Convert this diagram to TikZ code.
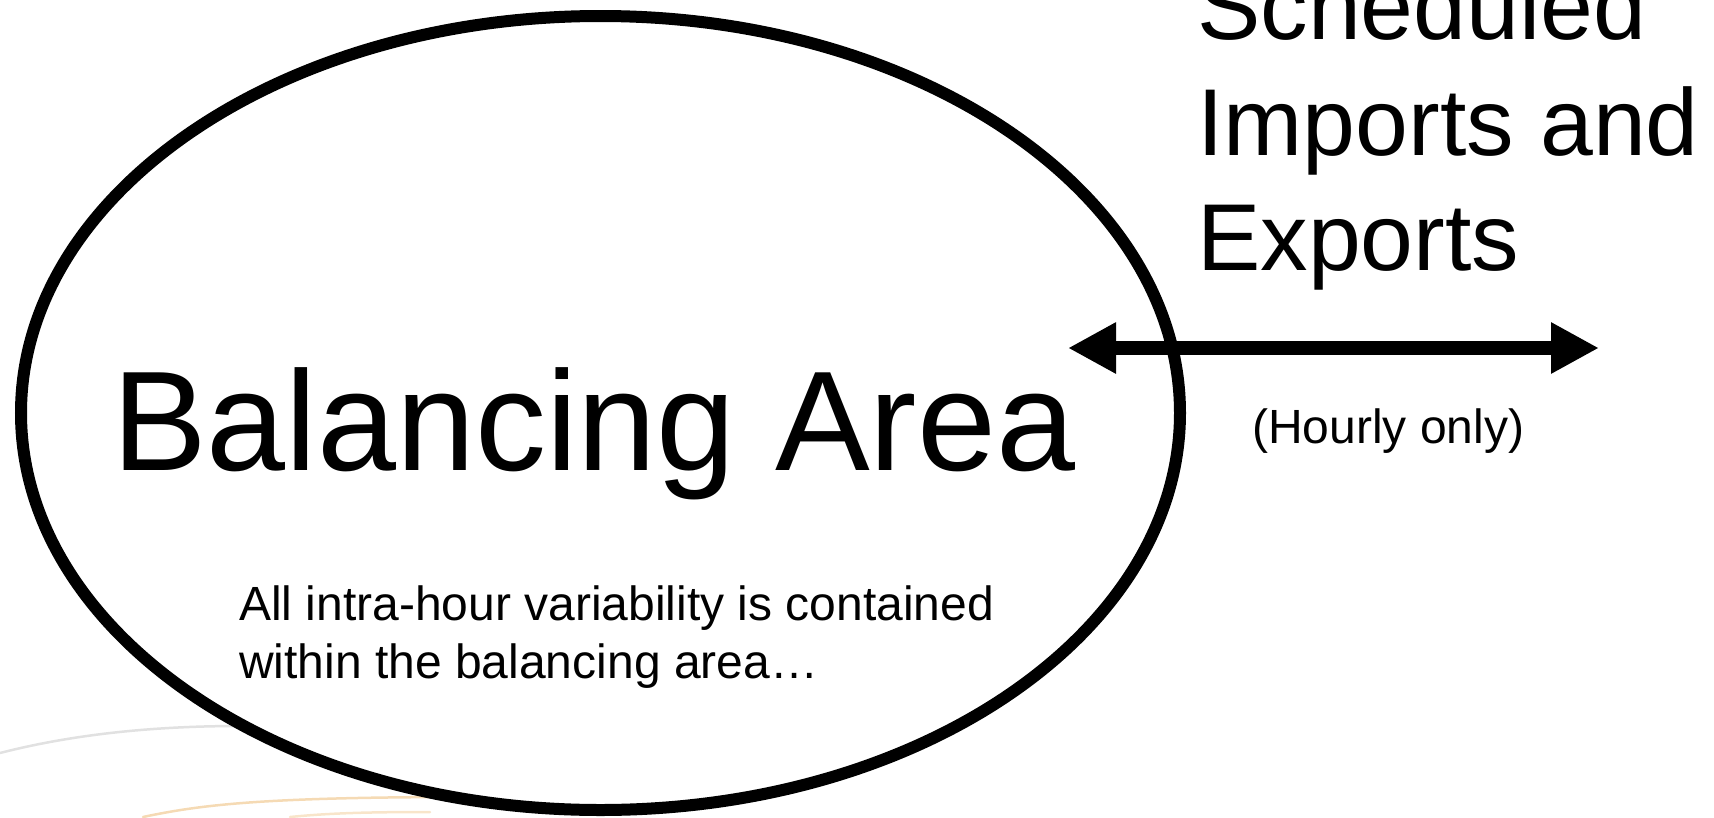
\documentclass[tikz,border=0pt]{standalone}
\usepackage{fontspec}
\setmainfont{Liberation Sans}
\usetikzlibrary{arrows.meta,shapes.geometric}
\definecolor{decogray}{RGB}{225,225,225}
\definecolor{decoorange}{RGB}{245,218,180}
\tikzset{
  bigtext/.style={inner sep=0pt, anchor=base west, font=\fontsize{142}{170}\selectfont},
  midtext/.style={inner sep=0pt, anchor=base west, font=\fontsize{95}{115.5}\selectfont},
  smalltext/.style={inner sep=0pt, anchor=base west, font=\fontsize{48}{58}\selectfont},
  deco/.style={line width=2.5pt, line cap=round},
  areaell/.style={ellipse, draw=black, fill=white, line width=12pt, inner sep=0pt,
    minimum width=1159pt, minimum height=794pt},
  flowarrow/.style={line width=14pt, {Triangle[length=48pt,width=48pt]}-{Triangle[length=48pt,width=48pt]}}
}
\begin{document}
\begin{tikzpicture}[x=1pt,y=-1pt]
\useasboundingbox (0,0) rectangle (1714,817);
% faint background decorations
\draw[deco, decogray] (0,753) .. controls (70,735) and (150,726) .. (240,726);
\draw[deco, decoorange] (143,817) .. controls (200,805) and (260,797) .. (470,797);
\draw[deco, decoorange, opacity=0.7] (290,817) .. controls (330,813) and (370,812) .. (430,812);
% balancing area
\node[areaell] (area) at (600.5,413) {};
\node[bigtext] (title) at (112,470) {Balancing Area};
\node[smalltext] (note1) at (239,620) {All intra-hour variability is contained};
\node[smalltext] (note2) at (239,678) {within the balancing area…};
% scheduled flows
\node[midtext] (sched1) at (1197,39) {Scheduled};
\node[midtext] (sched2) at (1197,155) {Imports and};
\node[midtext] (sched3) at (1197,270) {Exports};
\coordinate (left) at (1068,348);
\coordinate (right) at (1599,348);
\draw[flowarrow] (left) -- (right);
\node[smalltext] (hourly) at (1252,443) {(Hourly only)};
\end{tikzpicture}
\end{document}
